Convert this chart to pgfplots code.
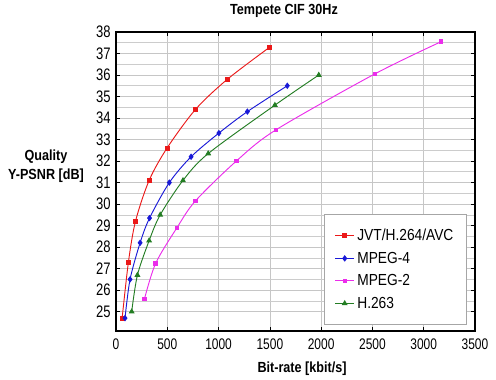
\documentclass[border=0pt]{standalone}
\usepackage{fontspec}
\setmainfont{Liberation Sans}[FakeStretch=0.86]
\newfontfamily\tickfont{Liberation Sans}[FakeStretch=0.78]
\usepackage{pgfplots}
\pgfplotsset{compat=1.18}
\definecolor{cred}{RGB}{235,25,25}
\definecolor{cblue}{RGB}{25,25,215}
\definecolor{cmag}{RGB}{235,45,235}
\definecolor{cgreen}{RGB}{35,125,35}
\begin{document}
\begin{tikzpicture}[x=0.75pt,y=0.75pt]
\path[use as bounding box] (-116,-48) rectangle (380,331);
\begin{axis}[
  at={(0,0)}, anchor=south west,
  scale only axis, width=269.25pt, height=224.25pt,
  xmin=0, xmax=3500, ymin=24.1, ymax=38,
  xtick={0,500,...,3500}, ytick={25,26,...,38},
  minor y tick num=1,
  grid=both,
  major grid style={gray!45, line width=0.5pt},
  minor grid style={gray!40, line width=0.5pt},
  tick style={black, line width=0.5pt},
  tick align=inside,
  major tick length=3pt, minor tick length=0pt,
  axis line style={black, line width=0.8pt},
  /pgf/number format/assume math mode=true,
  /pgf/number format/1000 sep={},
  xticklabel style={font=\tickfont\fontsize{11.5}{13}\selectfont, yshift=-2pt},
  yticklabel style={font=\tickfont\fontsize{12.5}{14}\selectfont, xshift=-0.5pt},
  legend style={at={(rel axis cs:0.978,0.02)}, anchor=south east,
    font=\fontsize{12}{14}\selectfont, draw=gray!70, line width=0.5pt,
    inner xsep=8pt, inner ysep=9pt, row sep=3pt},
  legend cell align=left,
  legend image code/.code={\draw[mark repeat=2,mark phase=2] plot coordinates {(0cm,0cm) (0.25cm,0cm) (0.5cm,0cm)};},
  every axis plot/.append style={line width=0.7pt, smooth, tension=0.5},
]
\addplot[cred, mark=square*, mark size=1.5pt] coordinates {
 (60,24.7) (121,27.3) (190,29.2) (323,31.1) (497,32.6) (775,34.4) (1085,35.8) (1500,37.3)};
\addlegendentry{JVT/H.264/AVC}
\addplot[cblue, mark=diamond*, mark size=1.9pt] coordinates {
 (88,24.7) (137,26.5) (235,28.2) (327,29.35) (520,31.0) (732,32.2) (1003,33.3) (1281,34.3) (1670,35.5)};
\addlegendentry{MPEG-4}
\addplot[cmag, mark=square*, mark size=1.3pt] coordinates {
 (278,25.6) (387,27.25) (594,28.9) (775,30.15) (1173,32.0) (1559,33.45) (2523,36.05) (3170,37.55)};
\addlegendentry{MPEG-2}
\addplot[cgreen, mark=triangle*, mark size=1.9pt] coordinates {
 (153,25.0) (209,26.7) (323,28.3) (431,29.5) (653,31.1) (899,32.35) (1549,34.6) (1977,36.0)};
\addlegendentry{H.263}
\end{axis}
\node[font=\fontsize{11}{13}\selectfont\bfseries] at (168,320) {Tempete CIF 30Hz};
\node[font=\fontsize{11}{13}\selectfont\bfseries, align=center, inner sep=0pt] at (-70,165) {Quality\\[1pt]Y-PSNR [dB]};
\node[font=\fontsize{11}{13}\selectfont\bfseries] at (186,-38) {Bit-rate [kbit/s]};
\end{tikzpicture}
\end{document}
